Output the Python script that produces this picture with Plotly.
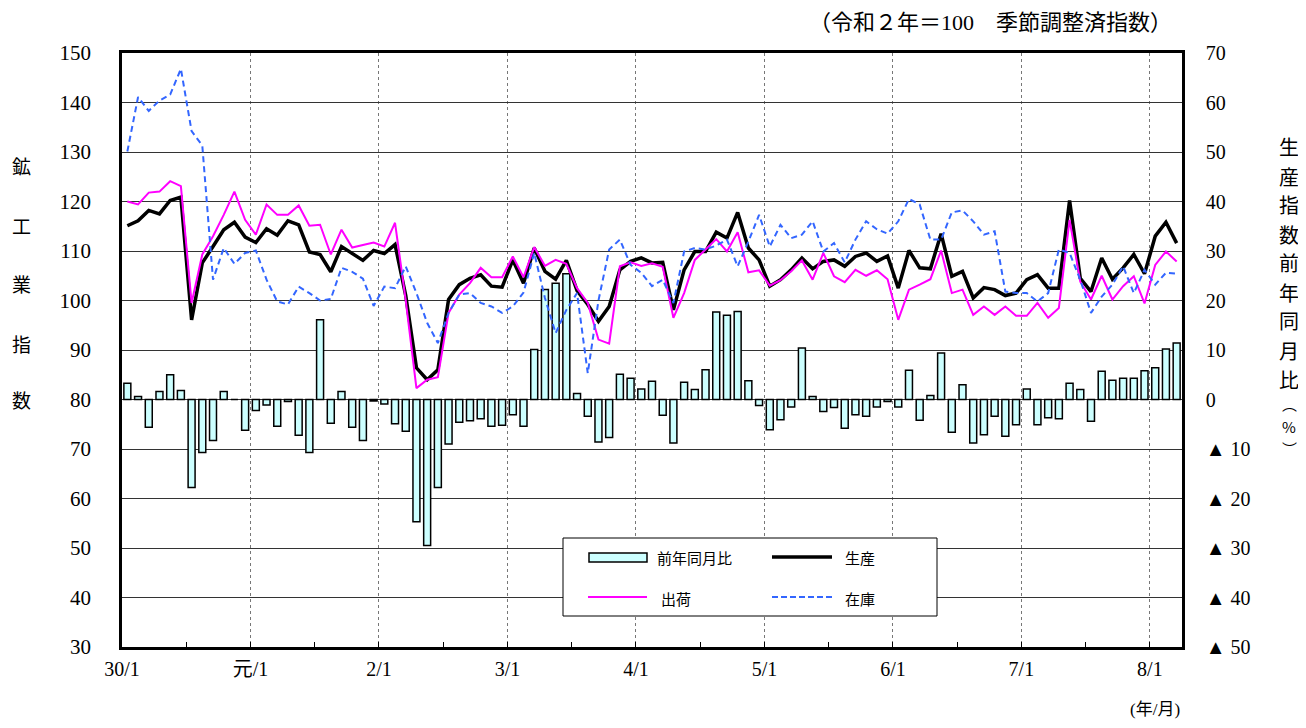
import plotly.graph_objects as go

# ---------------- data ----------------
years = ["30", "元", "2", "3", "4", "5", "6", "7", "8"]

production = [
    115.1, 116.1, 118.2, 117.5, 120.2, 120.9, 96.1, 107.6, 110.9, 114.3, 115.8, 112.8,
    111.7, 114.5, 113.2, 116.1, 115.3, 109.8, 109.3, 105.8, 110.9, 109.6, 108.1, 110.1,
    109.5, 111.3, 101.0, 86.4, 84.0, 86.0, 100.2, 103.2, 104.5, 105.2, 102.9, 102.7,
    108.2, 103.5, 110.6, 105.9, 104.3, 108.1, 102.0, 99.2, 95.8, 98.8, 106.2, 107.9,
    108.6, 107.6, 107.7, 98.1, 106.2, 109.9, 109.9, 113.8, 112.6, 117.8, 110.6, 108.2,
    102.9, 104.2, 106.2, 108.6, 106.4, 107.9, 108.2, 106.9, 108.9, 109.6, 107.9, 109.0,
    102.5, 110.1, 106.6, 106.4, 113.5, 104.9, 105.9, 100.5, 102.6, 102.2, 101.0, 101.5,
    104.2, 105.2, 102.5, 102.5, 120.2, 104.5, 101.8, 108.6, 104.3, 106.6, 109.3, 105.4,
    113.0, 115.8, 111.6,
]

shipments = [
    120.0, 119.4, 121.8, 122.0, 124.1, 123.1, 99.5, 109.3, 113.0, 117.3, 122.0, 116.3,
    113.3, 119.4, 117.3, 117.3, 119.2, 115.1, 115.3, 109.3, 114.3, 110.7, 111.2, 111.7,
    110.9, 115.7, 100.0, 82.3, 84.0, 84.5, 97.5, 101.2, 103.5, 106.6, 104.7, 104.7,
    108.9, 104.7, 110.8, 107.0, 108.2, 107.4, 102.5, 99.5, 92.1, 91.3, 106.9, 107.7,
    107.0, 107.5, 106.8, 96.5, 101.5, 108.2, 110.3, 112.4, 109.9, 113.8, 105.7, 106.1,
    103.0, 104.1, 105.9, 108.1, 104.2, 109.6, 104.9, 103.7, 106.2, 105.0, 106.1, 104.3,
    96.1, 102.2, 103.2, 104.3, 110.1, 101.5, 102.2, 97.1, 98.8, 97.1, 98.8, 96.9,
    96.9, 99.5, 96.5, 98.5, 116.3, 103.8, 100.2, 105.0, 100.2, 102.9, 104.9, 99.4,
    107.2, 109.9, 107.9,
]

inventory = [
    130.1, 141.1, 138.3, 140.4, 141.6, 146.8, 134.2, 131.3, 104.2, 110.6, 107.4, 109.6,
    110.1, 104.2, 99.8, 99.2, 102.8, 101.5, 100.0, 100.3, 106.6, 105.8, 104.4, 98.9,
    102.8, 102.5, 106.9, 101.5, 95.5, 91.4, 97.5, 101.2, 101.5, 99.5, 98.8, 97.5,
    98.8, 101.6, 109.6, 100.5, 93.4, 98.1, 101.5, 85.3, 100.0, 110.3, 112.3, 107.2,
    105.6, 102.9, 104.2, 99.5, 109.9, 110.6, 110.3, 111.1, 112.3, 106.9, 111.9, 117.3,
    110.9, 115.3, 112.6, 113.3, 116.0, 109.9, 111.6, 107.7, 112.3, 116.0, 114.4, 113.5,
    116.0, 120.5, 119.4, 112.3, 112.3, 117.8, 118.2, 116.0, 113.3, 114.0, 101.8, 101.5,
    101.5, 99.8, 101.5, 110.3, 109.6, 104.2, 97.5, 100.8, 103.2, 106.9, 101.5, 106.2,
    103.2, 105.6, 105.4,
]

yoy = [
    3.3, 0.6, -5.6, 1.6, 5.0, 1.8, -17.8, -10.7, -8.3, 1.6, 0.0, -6.2,
    -2.2, -1.1, -5.4, -0.4, -7.2, -10.7, 16.1, -4.8, 1.6, -5.6, -8.3, -0.3,
    -0.9, -4.9, -6.4, -24.7, -29.5, -17.8, -9.0, -4.6, -4.3, -3.9, -5.4, -5.2,
    -3.1, -5.4, 10.1, 22.2, 23.5, 25.4, 1.2, -3.4, -8.6, -7.7, 5.1, 4.3,
    2.1, 3.7, -3.2, -8.8, 3.5, 2.0, 6.0, 17.7, 17.0, 17.8, 3.8, -1.2,
    -6.1, -4.1, -1.5, 10.4, 0.6, -2.4, -1.6, -5.8, -3.1, -3.4, -1.5, -0.4,
    -1.5, 5.9, -4.2, 0.8, 9.4, -6.6, 3.0, -8.8, -7.1, -3.4, -7.4, -5.1,
    2.1, -5.1, -3.7, -3.9, 3.3, 2.0, -4.4, 5.7, 3.9, 4.3, 4.3, 5.8,
    6.4, 10.2, 11.4,
]

left_ticks = list(range(30, 151, 10))
right_ticks = list(range(-50, 71, 10))
right_ticktext = [("▲ " + str(-v)) if v < 0 else str(v) for v in right_ticks]
year_ticktext = [f"{y}/1" for y in years]

n = len(production)
x = list(range(n))
month_labels = [f"{years[i // 12]}/{i % 12 + 1}" for i in x]

# ---------------- layout helpers ----------------
OFF = 8                      # default page body margin
W, H = 1306 - OFF, 728 - 2 * OFF
SL, SR, ST, SB = 122, 1182, 53, 647   # plot area in screen pixels
L, R, T, B = SL - OFF, SR - OFF, ST - OFF, SB - OFF


def px(xs):
    return (xs - SL) / (SR - SL)


def py(ys):
    return (SB - ys) / (SB - ST)


SERIF = "Liberation Serif, Noto Sans CJK JP"
CJK = "Noto Sans CJK JP"

fig = go.Figure()
fig.add_trace(go.Bar(
    x=x, y=yoy, yaxis="y", name="前年同月比", customdata=month_labels,
    marker=dict(color="#CCFFFF", line=dict(color="black", width=1.5)),
))
fig.add_trace(go.Scatter(
    x=x, y=production, yaxis="y2", mode="lines", name="生産", customdata=month_labels,
    line=dict(color="black", width=3.5),
))
fig.add_trace(go.Scatter(
    x=x, y=shipments, yaxis="y2", mode="lines", name="出荷", customdata=month_labels,
    line=dict(color="#FF00FF", width=2),
))
fig.add_trace(go.Scatter(
    x=x, y=inventory, yaxis="y2", mode="lines", name="在庫", customdata=month_labels,
    line=dict(color="#3366FF", width=2, dash="6px,4px"),
))

fig.update_layout(
    width=W, height=H,
    margin=dict(l=L, r=W - R, t=T, b=H - B),
    plot_bgcolor="white", paper_bgcolor="white",
    showlegend=False, bargap=0.35,
    xaxis=dict(
        range=[-0.5, n - 0.5],
        tickmode="array",
        tickvals=[12 * k - 0.5 for k in range(len(years))],
        ticktext=year_ticktext,
        showgrid=True, gridcolor="#777777", griddash="dot", gridwidth=1,
        showline=True, linecolor="black", linewidth=2.5, mirror=True,
        ticks="inside", ticklen=5, tickcolor="black",
        minor=dict(tickmode="linear", tick0=5.5, dtick=12, ticks="inside",
                   ticklen=5, tickcolor="black", showgrid=False),
        tickfont=dict(family=SERIF, size=20, color="black"),
        ticklabelstandoff=2,
        zeroline=False,
    ),
    yaxis=dict(
        side="right", range=[-50, 70],
        tickmode="array", tickvals=right_ticks, ticktext=right_ticktext,
        showgrid=True, gridcolor="#333333", gridwidth=1, zeroline=False,
        showline=True, linecolor="black", linewidth=2.5,
        tickfont=dict(family=SERIF, size=20, color="black"),
        ticklabelstandoff=17,
    ),
    yaxis2=dict(
        overlaying="y", side="left", range=[30, 150],
        tickmode="array", tickvals=left_ticks,
        showgrid=False, zeroline=False,
        showline=True, linecolor="black", linewidth=2.5,
        tickfont=dict(family=SERIF, size=21, color="black"),
        ticklabelstandoff=24,
    ),
)

annotations = []
# left axis title (vertical)
for ch, ys in zip("鉱工業指数", [165, 225, 283, 343, 400]):
    annotations.append(dict(text=ch, x=px(22), y=py(ys), xref="paper", yref="paper",
                            showarrow=False, xanchor="center", yanchor="middle",
                            font=dict(family=CJK, size=19, color="black")))
# right axis title (vertical, one character per annotation)
right_chars = list("生産指数前年同月比")
for k, ch in enumerate(right_chars):
    annotations.append(dict(text=ch, x=px(1289), y=py(147 + 29 * k), xref="paper", yref="paper",
                            showarrow=False, xanchor="center", yanchor="middle",
                            font=dict(family=CJK, size=20, color="black")))
for ch, ys in zip(["︵", "%", "︶"], [404, 426, 448]):
    annotations.append(dict(text=ch, x=px(1289), y=py(ys), xref="paper", yref="paper",
                            showarrow=False, xanchor="center", yanchor="middle",
                            font=dict(family=CJK, size=15, color="black")))
# header note
annotations.append(dict(text="（令和２年＝100　季節調整済指数）", x=px(1174), y=py(22),
                        xref="paper", yref="paper", showarrow=False,
                        xanchor="right", yanchor="middle",
                        font=dict(family=SERIF, size=22, color="black")))
annotations.append(dict(text="(年/月)", x=px(1155), y=py(709), xref="paper", yref="paper",
                        showarrow=False, xanchor="center", yanchor="middle",
                        font=dict(family=SERIF, size=17, color="black")))

# manual legend
shapes = []
shapes.append(dict(type="rect", xref="paper", yref="paper", x0=px(563), x1=px(937),
                   y0=py(616), y1=py(538), line=dict(color="black", width=1),
                   fillcolor="white", layer="above"))
shapes.append(dict(type="rect", xref="paper", yref="paper", x0=px(589), x1=px(647),
                   y0=py(562), y1=py(553), line=dict(color="black", width=1.5),
                   fillcolor="#CCFFFF", layer="above"))
shapes.append(dict(type="line", xref="paper", yref="paper", x0=px(772), x1=px(832),
                   y0=py(557), y1=py(557), line=dict(color="black", width=3.5), layer="above"))
shapes.append(dict(type="line", xref="paper", yref="paper", x0=px(588), x1=px(647),
                   y0=py(597), y1=py(597), line=dict(color="#FF00FF", width=2), layer="above"))
shapes.append(dict(type="line", xref="paper", yref="paper", x0=px(772), x1=px(832),
                   y0=py(597), y1=py(597), line=dict(color="#3366FF", width=2, dash="6px,3px"),
                   layer="above"))
for txt, xs, ys in [("前年同月比", 655, 557), ("生産", 843, 557), ("出荷", 659, 598), ("在庫", 843, 598)]:
    annotations.append(dict(text=txt, x=px(xs), y=py(ys), xref="paper", yref="paper",
                            showarrow=False, xanchor="left", yanchor="middle",
                            font=dict(family=CJK, size=15, color="black")))

fig.update_layout(annotations=annotations, shapes=shapes)
fig.write_html("out.html")
